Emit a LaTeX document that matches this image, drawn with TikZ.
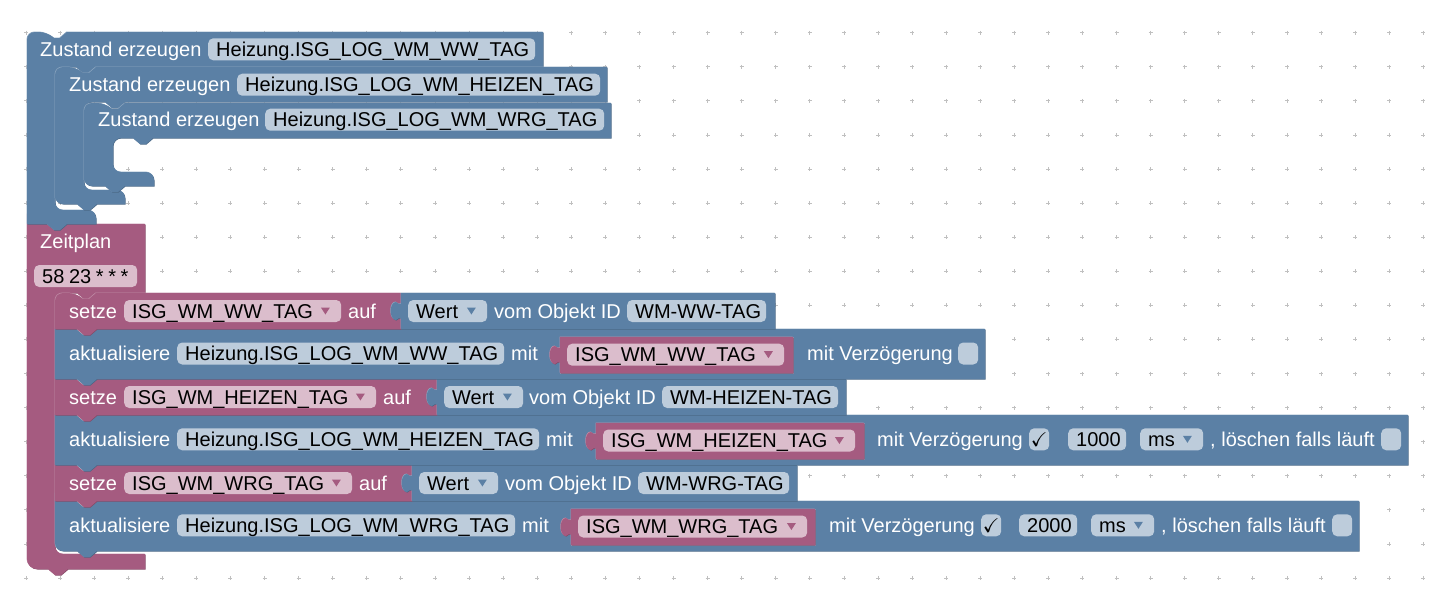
\documentclass[tikz,border=0pt]{standalone}
\usepackage{amssymb}
\usepackage{fontspec}
\setmainfont{Liberation Sans}
\definecolor{bluemain}{HTML}{5B80A5}
\definecolor{bluelit}{HTML}{8CA6C0}
\definecolor{bluedark}{HTML}{496684}
\definecolor{bluefield}{HTML}{BDCCDB}
\definecolor{magmain}{HTML}{A55B80}
\definecolor{maglit}{HTML}{C08CA6}
\definecolor{magdark}{HTML}{844966}
\definecolor{magfield}{HTML}{DBBDCC}
\definecolor{gridgrey}{HTML}{C0C0C0}
\newcommand{\notchR}{-- ++(7,6) -- ++(6,0) -- ++(7,-6)}
\newcommand{\notchL}{-- ++(-7,6) -- ++(-6,0) -- ++(-7,-6)}
\newcommand{\puzzle}[2]{-- (#1,{#2-7}) .. controls ({#1-2},{#2-6}) and ({#1-3},{#2-8}) .. ({#1-5},{#2-9}) .. controls ({#1-12},{#2-9}) and ({#1-12},{#2+9}) .. ({#1-5},{#2+9}) .. controls ({#1-3},{#2+8}) and ({#1-2},{#2+6}) .. (#1,{#2+7})}
\tikzset{
  blockb/.style={preaction={fill=bluedark,transform canvas={shift={(0.5pt,-0.5pt)}}},preaction={fill=bluelit,transform canvas={shift={(-0.5pt,0.5pt)}}},postaction={fill=bluemain}},
  blockm/.style={preaction={fill=magdark,transform canvas={shift={(0.5pt,-0.5pt)}}},preaction={fill=maglit,transform canvas={shift={(-0.5pt,0.5pt)}}},postaction={fill=magmain}},
  lbl/.style={anchor=west,inner xsep=0pt,inner ysep=1pt,text=white,text height=17pt,text depth=3pt,font=\fontsize{20pt}{24pt}\selectfont},
  pill/.style={lbl,rounded corners=5pt,inner xsep=8pt,text=black,align=left},
  pillb/.style={pill,fill=bluefield,text width=#1pt},
  pillm/.style={pill,fill=magfield,text width=#1pt},
  chk/.style={pill,fill=bluefield,inner xsep=0pt,text width=20pt,align=center},
  hole/.style={draw=bluelit,line width=1pt}
}
\begin{document}
\begin{tikzpicture}[x=1pt,y=-1pt]
  \useasboundingbox (0,0) rectangle (1430,592);
  % Workspace grid
  \foreach \i in {0,...,41}
    \foreach \j in {0,...,16}
      \draw[gridgrey,line width=0.8pt] ({26+34.08*\i},{32.7+34.08*\j}) +(-2,0) -- +(2,0) +(0,-2) -- +(0,2);

  % Zeitplan block
  \path[blockm] (27,224) -- (47,224) \notchR -- (145,224) -- (145,293) -- (97,293) \notchL [rounded corners=8pt] -- (55,293) -- (55,554) [sharp corners] -- (145,554) -- (145,569) -- (68,569) \notchL [rounded corners=10pt] -- (27,569) -- (27,224) [sharp corners] -- cycle;

  % Row 6
  \path[blockb] (55,501) -- (76,501) \notchR -- (1359,501) -- (1359,551) -- (97,551) \notchL [rounded corners=8pt] -- (55,551) -- (55,501) [sharp corners] -- cycle;
  \draw[hole] (571,509) rectangle (815,545);
  \path[blockm] (571,509) -- (815,509) -- (815,545) -- (571,545) \puzzle{571}{527} -- cycle;
  % Row 5
  \path[blockm] (55,465) -- (76,465) \notchR -- (412,465) -- (412,501) -- (97,501) \notchL -- (55,501) -- cycle;
  \path[blockb] (412,465) \puzzle{412}{483} -- (412,501) -- (797,501) -- (797,465) -- cycle;
  % Row 4
  \path[blockb] (55,415) -- (76,415) \notchR -- (1408,415) -- (1408,465) -- (97,465) \notchL -- (55,465) -- cycle;
  \draw[hole] (596,423) rectangle (864,459);
  \path[blockm] (596,423) -- (864,423) -- (864,459) -- (596,459) \puzzle{596}{441} -- cycle;
  % Row 3
  \path[blockm] (55,379) -- (76,379) \notchR -- (437,379) -- (437,415) -- (97,415) \notchL -- (55,415) -- cycle;
  \path[blockb] (437,379) \puzzle{437}{397} -- (437,415) -- (846,415) -- (846,379) -- cycle;
  % Row 2
  \path[blockb] (55,329) -- (76,329) \notchR -- (985,329) -- (985,379) -- (97,379) \notchL -- (55,379) -- cycle;
  \draw[hole] (560,337) rectangle (793,373);
  \path[blockm] (560,337) -- (793,337) -- (793,373) -- (560,373) \puzzle{560}{355} -- cycle;
  % Row 1
  \path[blockm] (55,329) [rounded corners=8pt] -- (55,293) -- (76,293) [sharp corners] \notchR -- (401,293) -- (401,329) -- (97,329) \notchL -- cycle;
  \path[blockb] (401,293) \puzzle{401}{311} -- (401,329) -- (775,329) -- (775,293) -- cycle;

  % Zustand blocks
  \path[blockb] (27,224) [rounded corners=8pt] -- (27,32) -- (47,32) [sharp corners] \notchR -- (543,32) -- (543,67) -- (96,67) \notchL [rounded corners=8pt] -- (55,67) -- (55,210) -- (96,210) [sharp corners] -- (96,224) -- (67,224) \notchL -- cycle;
  \path[blockb] (55,204) [rounded corners=8pt] -- (55,67) -- (76,67) [sharp corners] \notchR -- (607,67) -- (607,102) -- (125,102) \notchL [rounded corners=8pt] -- (84,102) -- (84,190) -- (125,190) [sharp corners] -- (125,204) -- (97,204) \notchL [rounded corners=8pt] -- (55,204) [sharp corners] -- cycle;
  \path[blockb] (84,186) [rounded corners=8pt] -- (84,103) -- (105,103) [sharp corners] \notchR -- (611,103) -- (611,138) -- (153,138) \notchL [rounded corners=8pt] -- (113,138) -- (113,172) -- (154,172) [sharp corners] -- (154,186) -- (125,186) \notchL [rounded corners=8pt] -- (84,186) [sharp corners] -- cycle;

  % Zustand texts
  \node[lbl] (zustandA) at (40,49.3) {Zustand erzeugen};
  \node[pillb=311] (logA) at (208,49.3) {Heizung.ISG\_LOG\_WM\_WW\_TAG};
  \node[lbl] (zustandB) at (69,84.7) {Zustand erzeugen};
  \node[pillb=347] (logB) at (237,84.7) {Heizung.ISG\_LOG\_WM\_HEIZEN\_TAG};
  \node[lbl] (zustandC) at (98,119.7) {Zustand erzeugen};
  \node[pillb=323] (logC) at (265,119.7) {Heizung.ISG\_LOG\_WM\_WRG\_TAG};

  % Zeitplan texts
  \node[lbl] (zeitplan) at (40,241) {Zeitplan};
  \node[pillm=87] (cron) at (34,276) {\spaceskip=4.6pt\mbox{58 23 * * *}};

  % Row 1 texts
  \node[lbl] (setzeA) at (69,311) {setze};
  \node[pillm=201] (varA) at (124,311) {ISG\_WM\_WW\_TAG};
  \node[lbl] (aufA) at (348,311) {auf};
  \node[pillb=63] (wertA) at (408,311) {Wert};
  \node[lbl] (vomA) at (494,311) {vom Objekt ID};
  \node[pillb=123] (idA) at (627,311) {\mbox{WM-WW-TAG}};
  % Row 2 texts
  \node[lbl] (aktA) at (69,353.5) {aktualisiere};
  \node[pillb=311] (stateA) at (177,353.5) {Heizung.ISG\_LOG\_WM\_WW\_TAG};
  \node[lbl] (mitA) at (511,353.5) {mit};
  \node[pillm=201] (valA) at (567,354.7) {ISG\_WM\_WW\_TAG};
  \node[lbl] (delayA) at (807,353.5) {mit Verzögerung};
  \node[chk] (chkA) at (958,353.5) {};
  % Row 3 texts
  \node[lbl] (setzeB) at (69,397) {setze};
  \node[pillm=236] (varB) at (124,397) {ISG\_WM\_HEIZEN\_TAG};
  \node[lbl] (aufB) at (383,397) {auf};
  \node[pillb=63] (wertB) at (444,397) {Wert};
  \node[lbl] (vomB) at (529,397) {vom Objekt ID};
  \node[pillb=160] (idB) at (662,397) {\mbox{WM-HEIZEN-TAG}};
  % Row 4 texts
  \node[lbl] (aktB) at (69,439.3) {aktualisiere};
  \node[pillb=346] (stateB) at (177,439.3) {Heizung.ISG\_LOG\_WM\_HEIZEN\_TAG};
  \node[lbl] (mitB) at (546,439.3) {mit};
  \node[pillm=236] (valB) at (603,440.5) {ISG\_WM\_HEIZEN\_TAG};
  \node[lbl] (delayB) at (877,439.3) {mit Verzögerung};
  \node[chk] (chkB) at (1029,439.3) {$\checkmark$};
  \node[pillb=42] (msB) at (1068,439.3) {1000};
  \node[pillb=47] (unitB) at (1140,439.3) {ms};
  \node[lbl] (clearB) at (1210,439.3) {, löschen falls läuft};
  \node[chk] (chkC) at (1381,439.3) {};
  % Row 5 texts
  \node[lbl] (setzeC) at (69,483) {setze};
  \node[pillm=212] (varC) at (124,483) {ISG\_WM\_WRG\_TAG};
  \node[lbl] (aufC) at (359,483) {auf};
  \node[pillb=63] (wertC) at (419,483) {Wert};
  \node[lbl] (vomC) at (505,483) {vom Objekt ID};
  \node[pillb=135] (idC) at (638,483) {\mbox{WM-WRG-TAG}};
  % Row 6 texts
  \node[lbl] (aktC) at (69,525.3) {aktualisiere};
  \node[pillb=322] (stateC) at (177,525.3) {Heizung.ISG\_LOG\_WM\_WRG\_TAG};
  \node[lbl] (mitC) at (522,525.3) {mit};
  \node[pillm=213] (valC) at (578,526.5) {ISG\_WM\_WRG\_TAG};
  \node[lbl] (delayC) at (829,525.3) {mit Verzögerung};
  \node[chk] (chkD) at (981,525.3) {$\checkmark$};
  \node[pillb=42] (msC) at (1019,525.3) {2000};
  \node[pillb=47] (unitC) at (1091,525.3) {ms};
  \node[lbl] (clearC) at (1161,525.3) {, löschen falls läuft};
  \node[chk] (chkE) at (1332,525.3) {};

  % Dropdown arrows
  \foreach \p in {varA,varB,varC,valA,valB,valC}
    \fill[magmain] ([xshift=-20.5pt,yshift=3.5pt]\p.east) -- ++(9,0) -- ++(-4.5,7) -- cycle;
  \foreach \p in {wertA,wertB,wertC,unitB,unitC}
    \fill[bluemain] ([xshift=-20.5pt,yshift=3.5pt]\p.east) -- ++(9,0) -- ++(-4.5,7) -- cycle;
\end{tikzpicture}
\end{document}
